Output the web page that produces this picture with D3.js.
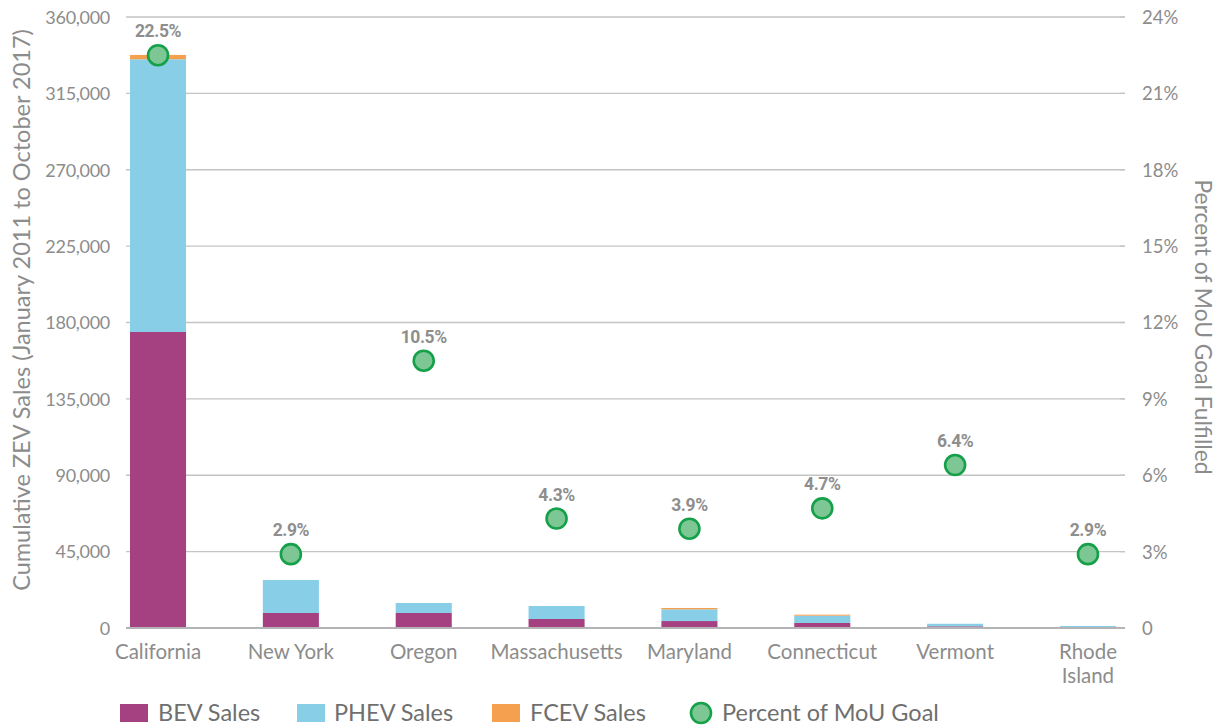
<!DOCTYPE html>
<html>
<head>
<meta charset="utf-8">
<script src="https://cdn.jsdelivr.net/npm/d3@7"></script>
<style>
  html, body { margin: 0; padding: 0; background: #ffffff; }
  svg { display: block; }
  text { font-family: Lato, "Open Sans", sans-serif; }
</style>
</head>
<body>
<svg id="chart" width="1218" height="727"></svg>
<script>
// ---- data ----
const categories = ["California", "New York", "Oregon", "Massachusetts", "Maryland", "Connecticut", "Vermont", "Rhode Island"];
const bevSales  = [174400, 8850, 8850, 5300, 4100, 2950, 1000, 500];
const phevSales = [160700, 19450, 5900, 7650, 6900, 4300, 1500, 700];
const fcevSales = [2550, 0, 0, 0, 800, 600, 0, 0];
const goalPct   = [22.5, 2.9, 10.5, 4.3, 3.9, 4.7, 6.4, 2.9];
const leftTicks  = [0, 45000, 90000, 135000, 180000, 225000, 270000, 315000, 360000];
const rightTicks = [0, 3, 6, 9, 12, 15, 18, 21, 24];
const seriesNames = ["BEV Sales", "PHEV Sales", "FCEV Sales", "Percent of MoU Goal"];
const seriesColors = ["#a64181", "#87cee6", "#f5a04f"];

const svg = d3.select("#chart");
const gridLeft = 126, gridRight = 1125;
const yTop = 17, yBottom = 628;
const textGray = "#8c8c8c";

const x = d3.scaleBand().domain(categories).range([91.6, 1154.4]).paddingInner(0.578).paddingOuter(0.289);
const y = d3.scaleLinear().domain([0, 360000]).range([yBottom, yTop]);
const y2 = d3.scaleLinear().domain([0, 24]).range([yBottom, yTop]);

// gridlines
const gridG = svg.append("g");
gridG.selectAll("line").data(leftTicks.filter(d => d > 0)).join("line")
  .attr("x1", gridLeft).attr("x2", gridRight)
  .attr("y1", d => y(d)).attr("y2", d => y(d))
  .attr("stroke", "#c4c4c4").attr("stroke-width", 1.3);

// left axis
const leftAxis = svg.append("g").attr("transform", `translate(${gridLeft},0)`)
  .call(d3.axisLeft(y).tickValues(leftTicks).tickFormat(d3.format(",")).tickSize(0).tickPadding(16));
leftAxis.select(".domain").remove();
leftAxis.selectAll("text").attr("fill", textGray).style("font-size", "18px").style("letter-spacing", "-0.3px").attr("dy", "0.35em");

// right axis
const rightAxis = svg.append("g").attr("transform", `translate(${gridRight},0)`)
  .call(d3.axisRight(y2).tickValues(rightTicks).tickFormat(d => d === 0 ? "0" : d + "%").tickSize(0).tickPadding(17));
rightAxis.select(".domain").remove();
rightAxis.selectAll("text").attr("fill", textGray).style("font-size", "18.5px").attr("dy", "0.35em");
// small tick marks on right
svg.append("g").selectAll("line").data(rightTicks).join("line")
  .attr("x1", gridRight - 5).attr("x2", gridRight)
  .attr("y1", d => y2(d)).attr("y2", d => y2(d))
  .attr("stroke", "#c4c4c4").attr("stroke-width", 1.3);

// stacked bars
const rows = categories.map((c, i) => ({ cat: c, bev: bevSales[i], phev: phevSales[i], fcev: fcevSales[i] }));
const stack = d3.stack().keys(["bev", "phev", "fcev"])(rows);
svg.append("g").selectAll("g").data(stack).join("g")
  .attr("fill", (d, i) => seriesColors[i])
  .selectAll("rect").data(d => d).join("rect")
  .attr("x", d => x(d.data.cat))
  .attr("width", x.bandwidth())
  .attr("y", d => y(d[1]))
  .attr("height", d => Math.max(0, y(d[0]) - y(d[1])));

// baseline
svg.append("line").attr("x1", gridLeft).attr("x2", gridRight)
  .attr("y1", y(0)).attr("y2", y(0))
  .attr("stroke", "#b4b4b6").attr("stroke-width", 2);

// x labels
const xl = svg.append("g");
categories.forEach(c => {
  const parts = c === "Rhode Island" ? ["Rhode", "Island"] : [c];
  parts.forEach((p, j) => {
    xl.append("text").attr("x", x(c) + x.bandwidth() / 2).attr("y", 659 + j * 24)
      .attr("text-anchor", "middle").attr("fill", textGray).style("font-size", "20.5px").text(p);
  });
});

// dots
const dotG = svg.append("g");
dotG.selectAll("circle").data(goalPct).join("circle")
  .attr("cx", (d, i) => x(categories[i]) + x.bandwidth() / 2)
  .attr("cy", d => y2(d))
  .attr("r", 10)
  .attr("fill", "#7dc795").attr("stroke", "#15a04a").attr("stroke-width", 2.6);
dotG.selectAll("text").data(goalPct).join("text")
  .attr("x", (d, i) => x(categories[i]) + x.bandwidth() / 2)
  .attr("y", d => y2(d) - 18)
  .attr("text-anchor", "middle").attr("fill", "#8e8e8e")
  .style("font-family", "Roboto, sans-serif").style("font-weight", 700).style("font-size", "17.5px")
  .style("letter-spacing", "-0.4px")
  .text(d => d.toFixed(1) + "%");

// axis titles
svg.append("text").attr("transform", `translate(30,310) rotate(-90)`)
  .attr("text-anchor", "middle").attr("fill", textGray).style("font-size", "23.5px")
  .text("Cumulative ZEV Sales (January 2011 to October 2017)");
svg.append("text").attr("transform", `translate(1195,327) rotate(90)`)
  .attr("text-anchor", "middle").attr("fill", textGray).style("font-size", "22.8px")
  .text("Percent of MoU Goal Fulfilled");

// legend
const legend = svg.append("g");
const legX = [120, 297, 492, 690];
const legTextX = [158, 334, 530, 722];
seriesNames.forEach((n, i) => {
  if (i < 3) {
    legend.append("rect").attr("x", legX[i]).attr("y", 704).attr("width", 28).attr("height", 18).attr("fill", seriesColors[i]);
  } else {
    legend.append("circle").attr("cx", legX[i] + 11).attr("cy", 713).attr("r", 10)
      .attr("fill", "#7dc795").attr("stroke", "#15a04a").attr("stroke-width", 2.6);
  }
  legend.append("text").attr("x", legTextX[i]).attr("y", 713).attr("dy", "0.35em")
    .attr("fill", "#6f6f6f").style("font-size", "23.5px").text(n);
});
</script>
</body>
</html>
